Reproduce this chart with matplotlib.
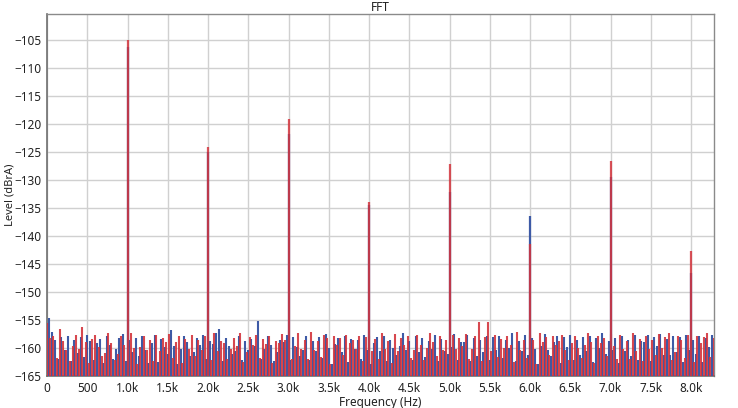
import matplotlib
matplotlib.use('Agg')
import matplotlib.pyplot as plt
import numpy as np

# --- data ------------------------------------------------------------------
harm_freqs = [1000, 2000, 3000, 4000, 5000, 6000, 7000, 8000]
harm_red = [-105.0, -124.2, -119.1, -133.9, -127.1, -141.5, -126.6, -142.7]
harm_blue = [-106.2, -125.1, -121.8, -134.4, -132.2, -136.5, -129.4, -146.7]

bin_hz = 40.0  # spacing of the noise-floor spikes

red_noise = [
    -155.6, -158.2, -157.9, -161.8, -156.6, -158.8, -160.3, -162.4, -159.6, -157.7, -160.2, -156.2, -158.9, -162.7, -158.4, -157.6,
    -159.8, -161.5, -160.9, -157.3, -159.2, -162.1, -161.0, -157.8, -159.5, -158.3, -157.4, -160.0, -162.9, -159.9, -157.9, -160.4,
    -158.5, -162.3, -157.6, -160.6, -158.2, -159.0, -157.5, -161.8, -158.9, -157.9, -162.7, -158.4, -160.1, -157.7, -161.4, -158.6,
    -160.3, -157.9, -158.1, -162.2, -157.4, -160.5, -158.7, -159.1, -161.9, -160.2, -158.3, -159.6, -157.3, -162.5, -160.7, -158.0,
    -159.5, -157.6, -161.7, -158.4, -159.3, -157.9, -162.6, -158.8, -159.2, -157.5, -158.6, -160.4, -161.9, -159.7, -157.4, -160.1,
    -158.5, -162.0, -157.2, -160.3, -158.8, -161.6, -157.6, -158.3, -162.8, -157.9, -159.4, -158.2, -161.3, -157.7, -159.1, -158.6,
    -160.2, -157.8, -162.4, -158.0, -157.9, -160.5, -158.4, -161.9, -157.3, -160.1, -158.7, -162.6, -157.5, -160.6, -158.2, -159.5,
    -157.9, -161.8, -160.3, -157.6, -159.4, -162.2, -160.0, -157.4, -158.9, -161.5, -157.8, -160.4, -158.5, -162.7, -157.7, -160.2,
    -158.3, -159.6, -157.5, -161.9, -160.1, -157.9, -155.4, -162.3, -158.0, -155.4, -160.5, -157.6, -161.6, -158.4, -160.0, -157.8,
    -159.5, -162.5, -157.2, -160.3, -158.6, -161.8, -157.7, -158.5, -162.9, -157.4, -159.0, -158.1, -161.2, -157.9, -159.4, -158.8,
    -157.6, -160.4, -162.1, -159.2, -157.8, -160.0, -161.7, -159.5, -157.3, -158.9, -162.6, -157.9, -159.1, -158.2, -161.4, -157.5,
    -159.7, -162.0, -157.6, -160.1, -158.8, -161.9, -157.4, -160.5, -158.4, -162.4, -157.8, -160.2, -158.6, -161.3, -157.5, -160.0,
    -158.1, -157.3, -162.2, -160.7, -157.9, -158.5, -161.8, -157.6, -158.3, -162.5, -157.8, -159.2, -158.0, -157.4, -161.6, -158.3,
]

blue_noise = [
    -154.7, -157.2, -158.6, -161.9, -158.1, -160.4, -157.9, -162.3, -158.5, -160.9, -158.0, -161.6, -157.6, -158.8, -162.2, -159.1,
    -158.4, -162.6, -157.8, -159.5, -161.9, -160.1, -158.3, -157.5, -162.4, -158.6, -160.7, -158.2, -161.4, -157.9, -160.3, -162.7,
    -159.2, -157.7, -162.5, -158.4, -159.8, -161.1, -156.8, -159.6, -162.9, -160.2, -157.9, -159.0, -161.5, -160.8, -158.3, -159.4,
    -157.6, -162.0, -158.7, -159.3, -157.4, -156.6, -162.4, -158.2, -159.7, -161.0, -160.6, -157.8, -162.1, -158.8, -160.3, -158.4,
    -159.6, -155.2, -161.9, -160.1, -157.9, -159.4, -162.3, -160.7, -158.6, -159.0, -157.7, -162.2, -158.1, -159.8, -161.5, -160.4,
    -157.8, -162.2, -158.7, -160.5, -158.0, -161.7, -157.5, -160.0, -162.8, -159.3, -158.2, -160.8, -157.9, -162.5, -158.4, -160.1,
    -158.6, -161.9, -157.6, -160.3, -162.9, -159.1, -158.1, -160.6, -157.8, -162.4, -158.5, -160.0, -161.3, -159.7, -157.4, -160.4,
    -158.7, -162.2, -157.9, -160.7, -158.2, -161.6, -158.8, -160.1, -157.7, -162.3, -158.4, -160.5, -161.0, -159.8, -157.5, -162.2,
    -158.9, -159.0, -157.6, -162.4, -158.3, -161.5, -158.6, -160.8, -157.9, -162.1, -158.1, -160.3, -157.8, -161.7, -158.5, -160.0,
    -157.4, -162.4, -158.7, -160.6, -157.7, -161.2, -158.2, -160.1, -162.8, -159.6, -157.5, -160.4, -161.4, -159.0, -157.9, -162.7,
    -158.1, -159.8, -157.6, -162.2, -158.6, -161.3, -158.0, -160.5, -157.8, -162.5, -158.3, -160.0, -157.4, -161.1, -158.7, -160.3,
    -158.2, -162.7, -157.9, -160.6, -158.5, -161.4, -157.6, -162.1, -158.8, -159.0, -157.7, -162.4, -158.1, -159.6, -157.5, -161.2,
    -158.4, -161.3, -157.8, -160.7, -158.0, -162.5, -157.6, -160.3, -158.6, -161.1, -157.9, -162.5, -158.3, -159.8, -157.7, -160.0,
]

x_ticks = [0, 500, 1000, 1500, 2000, 2500, 3000, 3500, 4000, 4500, 5000, 5500, 6000, 6500, 7000, 7500, 8000]
x_ticklabels = ['0', '500', '1.0k', '1.5k', '2.0k', '2.5k', '3.0k', '3.5k', '4.0k', '4.5k',
                '5.0k', '5.5k', '6.0k', '6.5k', '7.0k', '7.5k', '8.0k']
y_ticks = list(range(-165, -104, 5))

blue = '#3d5aa6'
red = '#d3343c'
floor = -170  # below the visible range, spikes rise from here

plt.rcParams['font.family'] = ['Noto Sans', 'DejaVu Sans']

fig = plt.figure(figsize=(7.38, 4.08), dpi=100)
ax = fig.add_axes([47/738, 32/408, (714-47)/738, (376-14)/408])

red_f = np.arange(len(red_noise)) * bin_hz
blue_f = np.arange(len(blue_noise)) * bin_hz + bin_hz / 2

ax.vlines(blue_f, floor, blue_noise, color=blue, linewidth=1.5, zorder=3)
ax.vlines(red_f, floor, red_noise, color=red, linewidth=1.5, alpha=0.9, zorder=4)
ax.vlines(harm_freqs, floor, harm_blue, color=blue, linewidth=1.6, zorder=5)
ax.vlines(harm_freqs, floor, harm_red, color=red, linewidth=1.6, alpha=0.85, zorder=6)

ax.set_xlim(0, 8285)
ax.set_ylim(-165, -100.4)
ax.set_xticks(x_ticks)
ax.set_xticklabels(x_ticklabels)
ax.set_yticks(y_ticks)
ax.tick_params(length=0, labelsize=8.5, colors='#222222', pad=4)
ax.grid(True, color='#d0d0d0', linewidth=1, zorder=0)
ax.set_axisbelow(True)

for side in ['left', 'bottom']:
    ax.spines[side].set_color('#6e6e6e')
    ax.spines[side].set_linewidth(1.2)
for side in ['top', 'right']:
    ax.spines[side].set_color('#8a8a8a')
    ax.spines[side].set_linewidth(1.0)

ax.set_title('FFT', fontsize=8.5, color='#222222', pad=2)
ax.set_xlabel('Frequency (Hz)', fontsize=8.5, color='#222222', labelpad=1)
ax.set_ylabel('Level (dBrA)', fontsize=8, color='#222222')
ax.yaxis.set_label_coords(-0.047, 0.5)

plt.savefig('out.png', dpi=100, facecolor='white')
